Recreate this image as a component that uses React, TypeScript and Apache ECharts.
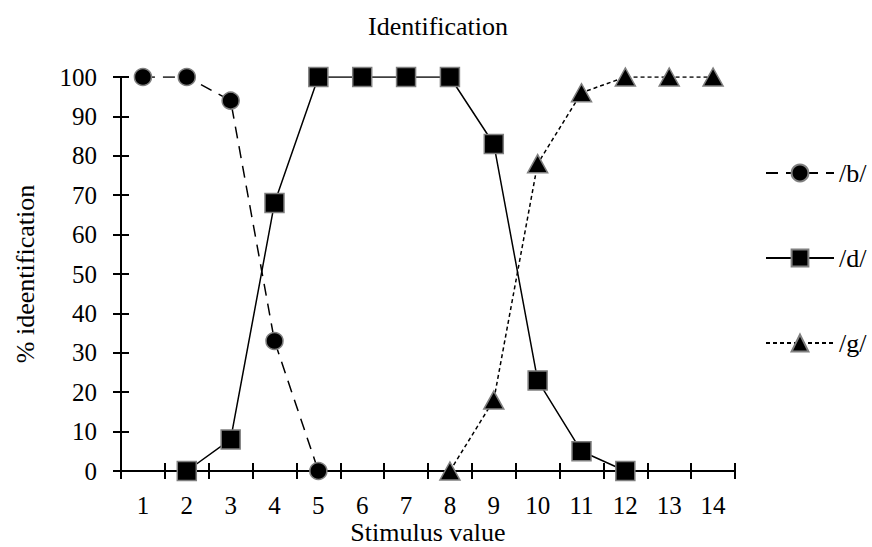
import React, { useEffect, useRef } from "react";
import * as echarts from "echarts";

const categories = ["1", "2", "3", "4", "5", "6", "7", "8", "9", "10", "11", "12", "13", "14"];
const seriesB = [100, 100, 94, 33, 0, null, null, null, null, null, null, null, null, null];
const seriesD = [null, 0, 8, 68, 100, 100, 100, 100, 83, 23, 5, 0, null, null];
const seriesG = [null, null, null, null, null, null, null, 0, 18, 78, 96, 100, 100, 100];
const yMin = 0;
const yMax = 100;
const yInterval = 10;

const FONT = "'Liberation Serif', 'Times New Roman', serif";

export default function App() {
  const ref = useRef<HTMLDivElement>(null);
  useEffect(() => {
    document.body.style.margin = "0";
    if (!ref.current) return;
    const chart = echarts.init(ref.current, null, { renderer: "svg" });
    const marker = { color: "#000", borderColor: "#7f7f7f", borderWidth: 1.5 };
    const common = {
      type: "line" as const,
      xAxisIndex: 0,
      yAxisIndex: 0,
      connectNulls: false,
      itemStyle: marker,
    };
    chart.setOption({
      animation: false,
      backgroundColor: "#fff",
      title: {
        text: "Identification",
        left: 363,
        top: 8,
        textStyle: { fontFamily: FONT, fontSize: 26, fontWeight: "normal", color: "#000" },
      },
      legend: {
        orient: "vertical",
        left: 760,
        top: 155,
        itemWidth: 68,
        itemHeight: 21,
        itemGap: 59,
        textStyle: { fontFamily: FONT, fontSize: 26, color: "#000" },
        data: ["/b/", "/d/", "/g/"],
      },
      grid: { left: 121, right: 137, top: 77, bottom: 76, outerBoundsMode: "none" },
      xAxis: [
        {
          type: "category",
          data: categories,
          position: "bottom",
          boundaryGap: true,
          name: "Stimulus value",
          nameLocation: "middle",
          nameGap: 56,
          nameMoveOverlap: false,
          nameTextStyle: { fontFamily: FONT, fontSize: 26, color: "#000", lineHeight: 10 },
          axisLine: { show: true, lineStyle: { color: "#000", width: 2 } },
          axisTick: { show: true, length: 8, inside: false, alignWithLabel: false, lineStyle: { color: "#000", width: 2 } },
          axisLabel: { fontFamily: FONT, fontSize: 25, color: "#000", margin: 22, interval: 0 },
          splitLine: { show: false },
        },
        {
          type: "category",
          data: categories,
          position: "bottom",
          boundaryGap: true,
          axisLine: { show: false },
          axisTick: { show: true, length: 8, inside: true, lineStyle: { color: "#000", width: 2 } },
          axisLabel: { show: false },
          splitLine: { show: false },
        },
      ],
      yAxis: [
        {
          type: "value",
          min: yMin,
          max: yMax,
          interval: yInterval,
          position: "left",
          name: "% ideentification",
          nameLocation: "middle",
          nameGap: 83,
          nameMoveOverlap: false,
          nameTextStyle: { fontFamily: FONT, fontSize: 26, color: "#000" },
          axisLine: { show: true, lineStyle: { color: "#000", width: 2 } },
          axisTick: { show: true, length: 8, inside: false, lineStyle: { color: "#000", width: 2 } },
          axisLabel: { fontFamily: FONT, fontSize: 25, color: "#000", margin: 24 },
          splitLine: { show: false },
        },
        {
          type: "value",
          min: yMin,
          max: yMax,
          interval: yInterval,
          position: "left",
          axisLine: { show: false },
          axisTick: { show: true, length: 8, inside: true, lineStyle: { color: "#000", width: 2 } },
          axisLabel: { show: false },
          splitLine: { show: false },
        },
      ],
      series: [
        {
          ...common,
          name: "/b/",
          data: seriesB,
          symbol: "circle",
          symbolSize: 17,
          lineStyle: { color: "#000", width: 1.5, type: [12, 8] },
        },
        {
          ...common,
          name: "/d/",
          data: seriesD,
          symbol: "rect",
          symbolSize: 19,
          lineStyle: { color: "#000", width: 1.5, type: "solid" },
        },
        {
          ...common,
          name: "/g/",
          data: seriesG,
          symbol: "triangle",
          symbolSize: [20, 18],
          lineStyle: { color: "#000", width: 1.5, type: [4, 3] },
        },
      ],
    });
    return () => chart.dispose();
  }, []);
  return <div ref={ref} style={{ width: 872, height: 547 }} />;
}
